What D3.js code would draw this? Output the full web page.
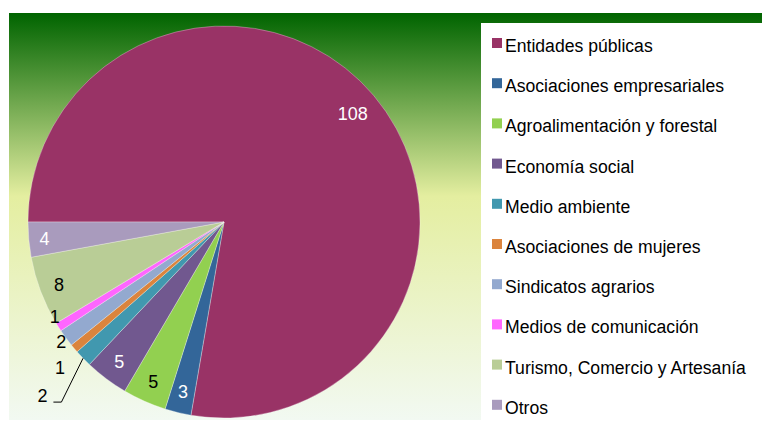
<!DOCTYPE html>
<html>
<head>
<meta charset="utf-8">
<script src="https://cdn.jsdelivr.net/npm/d3@7"></script>
<style>
  body { margin: 0; background: #fff; }
  text { font-family: "Liberation Sans", Arial, sans-serif; }
</style>
</head>
<body>
<div id="chart"></div>
<script>
// Data
var categories = [
    "Entidades públicas",
    "Asociaciones empresariales",
    "Agroalimentación y forestal",
    "Economía social",
    "Medio ambiente",
    "Asociaciones de mujeres",
    "Sindicatos agrarios",
    "Medios de comunicación",
    "Turismo, Comercio y Artesanía",
    "Otros"
];
var values = [108, 3, 5, 5, 2, 1, 2, 1, 8, 4];

// Styles
var colors = ["#993366", "#336699", "#92d050", "#71588f", "#4198af",
              "#db843d", "#93a9cf", "#ff66ff", "#b9cd96", "#a99bbd"];
var labelColors = ["#fff", "#fff", "#000", "#fff", "#000",
                   "#000", "#000", "#000", "#000", "#fff"];
// label radius (fraction of pie radius) and angle nudge in degrees
var labelRad = [0.86, 0.89, 0.89, 0.89, 1.28, 1.12, 1.03, 0.99, 0.9, 0.92];
var labelNudge = [0, 0, 0, 0, 0.4, -1.5, 0, 3.1, 0, 0];

var svgWidth = 762;
var svgHeight = 423;

var svg = d3.select("#chart")
    .append("svg")
    .attr("width", svgWidth)
    .attr("height", svgHeight);

// Background gradient
var defs = svg.append("defs");
var grad = defs.append("linearGradient")
    .attr("id", "bg")
    .attr("x1", 0).attr("y1", 0)
    .attr("x2", 0).attr("y2", 1);
grad.append("stop").attr("offset", "0").attr("stop-color", "#006400");
grad.append("stop").attr("offset", "0.45").attr("stop-color", "#e4eea0");
grad.append("stop").attr("offset", "1").attr("stop-color", "#f2f9f2");

svg.append("rect")
    .attr("x", 9).attr("y", 13)
    .attr("width", svgWidth - 9).attr("height", 407)
    .attr("fill", "url(#bg)");

// Pie
var cx = 224, cy = 222, radius = 196;

var pie = d3.pie()
    .sort(null)
    .startAngle(-Math.PI / 2)
    .endAngle(Math.PI * 1.5)
    .value(d => d);

var arc = d3.arc().innerRadius(0).outerRadius(radius);

var arcs = pie(values);

var pieGroup = svg.append("g")
    .attr("transform", `translate(${cx}, ${cy})`);

pieGroup.selectAll("path")
    .data(arcs)
    .enter()
    .append("path")
    .attr("d", arc)
    .attr("fill", (d, i) => colors[i])
    .attr("stroke", "#fff")
    .attr("stroke-opacity", 0.5)
    .attr("stroke-width", 0.6);

function labelPoint(d, i) {
    var a = (d.startAngle + d.endAngle) / 2 + labelNudge[i] * Math.PI / 180;
    var r = radius * labelRad[i];
    return [r * Math.sin(a), -r * Math.cos(a)];
}

// Leader line for the "Medio ambiente" label
var leader = arcs[4];
var la = (leader.startAngle + leader.endAngle) / 2;
var lp = labelPoint(leader, 4);
pieGroup.append("polyline")
    .attr("points", [
        [radius * Math.sin(la), -radius * Math.cos(la)],
        [lp[0] + 19, lp[1] + 7],
        [lp[0] + 11, lp[1] + 7]
    ].map(p => p.join(",")).join(" "))
    .attr("fill", "none")
    .attr("stroke", "#000")
    .attr("stroke-width", 1);

pieGroup.selectAll(".lbl")
    .data(arcs)
    .enter()
    .append("text")
    .attr("class", "lbl")
    .attr("x", (d, i) => labelPoint(d, i)[0])
    .attr("y", (d, i) => labelPoint(d, i)[1])
    .attr("dy", "0.36em")
    .style("font-size", "18px")
    .style("text-anchor", "middle")
    .style("fill", (d, i) => labelColors[i])
    .text(d => d.data);

// Legend
svg.append("rect")
    .attr("x", 481).attr("y", 23)
    .attr("width", svgWidth - 481).attr("height", 397)
    .attr("fill", "#fff");

var legend = svg.selectAll(".legend")
    .data(categories)
    .enter()
    .append("g")
    .attr("class", "legend")
    .attr("transform", (d, i) => `translate(492, ${38 + i * 40.2})`);

legend.append("rect")
    .attr("width", 10).attr("height", 10)
    .attr("fill", (d, i) => colors[i]);

legend.append("text")
    .attr("x", 13)
    .attr("y", 14)
    .style("font-size", "17.6px")
    .style("fill", "#000")
    .text(d => d);
</script>
</body>
</html>
